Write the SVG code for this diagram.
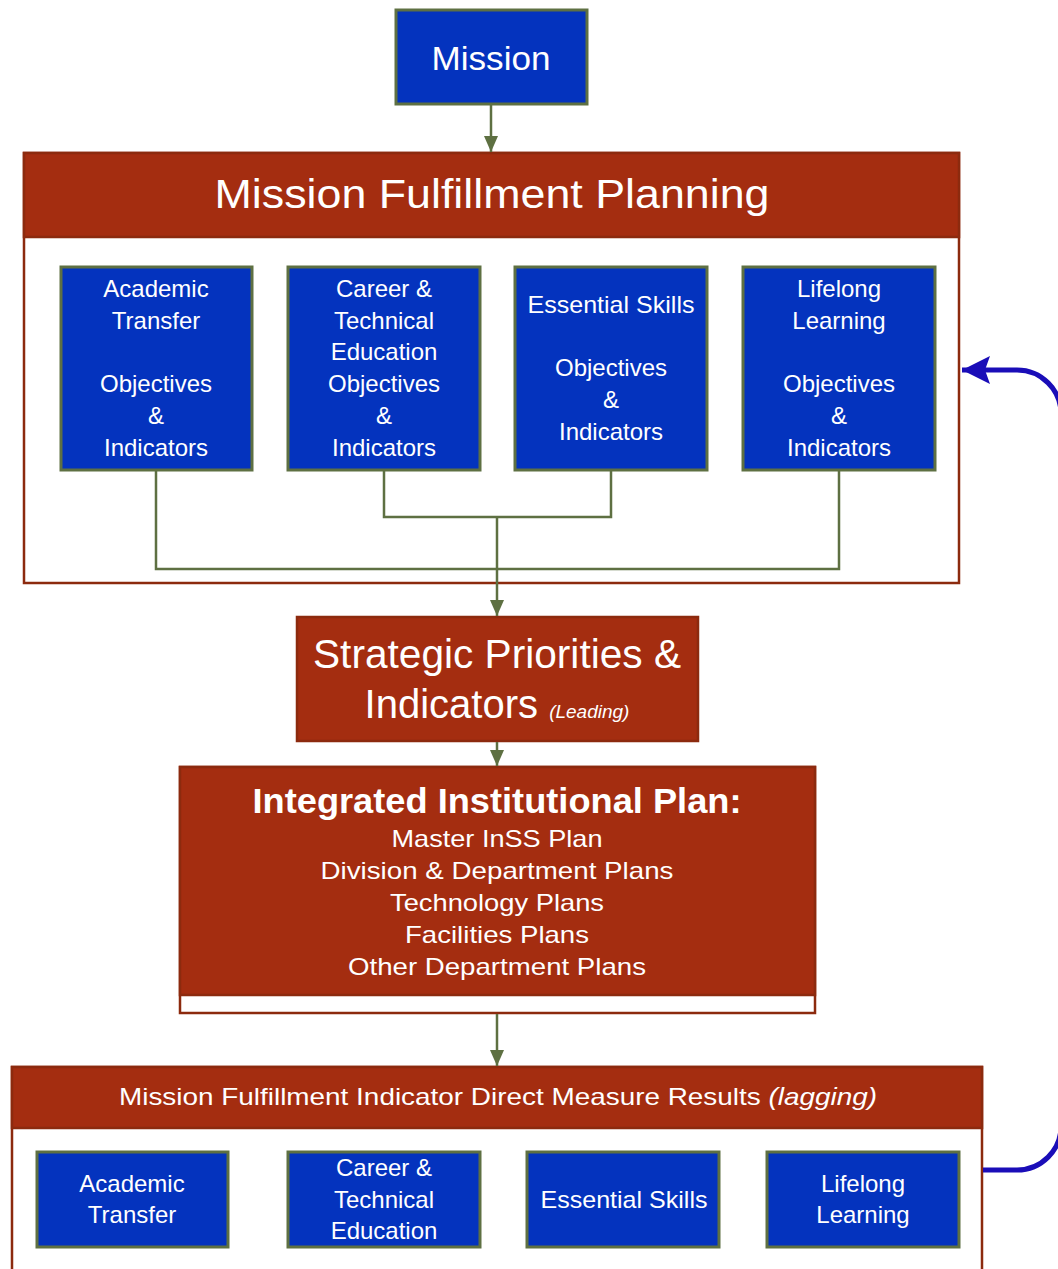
<svg xmlns="http://www.w3.org/2000/svg" width="1058" height="1269" viewBox="0 0 1058 1269">
  <defs>
    <style>
      .blue { fill: #0433BE; stroke: #5E7042; stroke-width: 3; }
      .red { fill: #A42D10; stroke: #8C2A0E; stroke-width: 2.5; }
      .frame { fill: #FFFFFF; stroke: #8C2A0E; stroke-width: 2.5; }
      .conn { fill: none; stroke: #5E7042; stroke-width: 2.5; }
      .feedback { fill: none; stroke: #1A0DB8; stroke-width: 5; }
      text { font-family: "Liberation Sans", Arial, sans-serif; fill: #FFFFFF; text-anchor: middle; }
      .box { font-size: 24px; }
      .big { font-size: 40px; }
      .mid { font-size: 24px; }
    </style>
    <marker id="arrowGreen" viewBox="0 0 16 14" refX="16" refY="7" markerWidth="16" markerHeight="14" markerUnits="userSpaceOnUse" orient="auto">
      <path d="M0,0 L16,7 L0,14 Z" fill="#5E7042"/>
    </marker>
    <marker id="arrowBlue" viewBox="0 0 30 30" refX="29" refY="15" markerWidth="30" markerHeight="30" markerUnits="userSpaceOnUse" orient="auto">
      <path d="M29,15 L1,1 L6,15 L1,29 Z" fill="#1A0DB8"/>
    </marker>
  </defs>

  <!-- Mission -->
  <g id="mission">
    <rect class="blue" x="396" y="10" width="191" height="94"/>
    <text x="491" y="70" style="font-size:34px" textLength="119" lengthAdjust="spacingAndGlyphs">Mission</text>
  </g>

  <!-- Mission Fulfillment Planning container -->
  <g id="mfp">
    <rect class="frame" x="24" y="153" width="935" height="430"/>
    <rect class="red" x="24" y="153" width="935" height="84"/>
    <text class="big" x="492" y="208" textLength="555" lengthAdjust="spacingAndGlyphs">Mission Fulfillment Planning</text>
  </g>

  <g id="mfp-academic">
    <rect class="blue" x="61" y="267" width="191" height="203"/>
    <text class="box" x="156" y="297">Academic</text>
    <text class="box" x="156" y="329">Transfer</text>
    <text class="box" x="156" y="392">Objectives</text>
    <text class="box" x="156" y="424">&amp;</text>
    <text class="box" x="156" y="456">Indicators</text>
  </g>
  <g id="mfp-cte">
    <rect class="blue" x="288" y="267" width="192" height="203"/>
    <text class="box" x="384" y="297">Career &amp;</text>
    <text class="box" x="384" y="329">Technical</text>
    <text class="box" x="384" y="360">Education</text>
    <text class="box" x="384" y="392">Objectives</text>
    <text class="box" x="384" y="424">&amp;</text>
    <text class="box" x="384" y="456">Indicators</text>
  </g>
  <g id="mfp-essential">
    <rect class="blue" x="515" y="267" width="192" height="203"/>
    <text class="box" x="611" y="313" textLength="167" lengthAdjust="spacingAndGlyphs">Essential Skills</text>
    <text class="box" x="611" y="376">Objectives</text>
    <text class="box" x="611" y="408">&amp;</text>
    <text class="box" x="611" y="440">Indicators</text>
  </g>
  <g id="mfp-lifelong">
    <rect class="blue" x="743" y="267" width="192" height="203"/>
    <text class="box" x="839" y="297">Lifelong</text>
    <text class="box" x="839" y="329">Learning</text>
    <text class="box" x="839" y="392">Objectives</text>
    <text class="box" x="839" y="424">&amp;</text>
    <text class="box" x="839" y="456">Indicators</text>
  </g>

  <!-- Strategic Priorities -->
  <g id="strategic">
    <rect class="red" x="297" y="617" width="401" height="124"/>
    <text class="big" x="497" y="668" textLength="368" lengthAdjust="spacingAndGlyphs">Strategic Priorities &amp;</text>
    <text x="497" y="718"><tspan style="font-size:40px">Indicators </tspan><tspan style="font-size:19px;font-style:italic">(Leading)</tspan></text>
  </g>

  <!-- Integrated Institutional Plan -->
  <g id="iip">
    <rect class="frame" x="180" y="767" width="635" height="246"/>
    <rect class="red" x="180" y="767" width="635" height="228"/>
    <text x="497" y="813" style="font-size:35px;font-weight:bold" textLength="489" lengthAdjust="spacingAndGlyphs">Integrated Institutional Plan:</text>
    <text class="mid" x="497" y="847" textLength="211" lengthAdjust="spacingAndGlyphs">Master InSS Plan</text>
    <text class="mid" x="497" y="879" textLength="353" lengthAdjust="spacingAndGlyphs">Division &amp; Department Plans</text>
    <text class="mid" x="497" y="911" textLength="214" lengthAdjust="spacingAndGlyphs">Technology Plans</text>
    <text class="mid" x="497" y="943" textLength="184" lengthAdjust="spacingAndGlyphs">Facilities Plans</text>
    <text class="mid" x="497" y="975" textLength="298" lengthAdjust="spacingAndGlyphs">Other Department Plans</text>
  </g>

  <!-- Direct measure results container -->
  <g id="results">
    <rect class="frame" x="12" y="1067" width="970" height="220"/>
    <rect class="red" x="12" y="1067" width="970" height="61"/>
    <text class="mid" x="498" y="1105" textLength="758" lengthAdjust="spacingAndGlyphs">Mission Fulfillment Indicator Direct Measure Results <tspan style="font-style:italic">(lagging)</tspan></text>
  </g>
  <g id="res-academic">
    <rect class="blue" x="37" y="1152" width="191" height="95"/>
    <text class="box" x="132" y="1192">Academic</text>
    <text class="box" x="132" y="1223">Transfer</text>
  </g>
  <g id="res-cte">
    <rect class="blue" x="288" y="1152" width="192" height="95"/>
    <text class="box" x="384" y="1176">Career &amp;</text>
    <text class="box" x="384" y="1208">Technical</text>
    <text class="box" x="384" y="1239">Education</text>
  </g>
  <g id="res-essential">
    <rect class="blue" x="527" y="1152" width="192" height="95"/>
    <text class="box" x="624" y="1208" textLength="167" lengthAdjust="spacingAndGlyphs">Essential Skills</text>
  </g>
  <g id="res-lifelong">
    <rect class="blue" x="767" y="1152" width="192" height="95"/>
    <text class="box" x="863" y="1192">Lifelong</text>
    <text class="box" x="863" y="1223">Learning</text>
  </g>

  <!-- Connectors -->
  <g id="connectors">
    <line class="conn" x1="491" y1="105" x2="491" y2="152" marker-end="url(#arrowGreen)"/>
    <path class="conn" d="M156,471 V569 H839 V471"/>
    <path class="conn" d="M384,471 V517 H611 V471"/>
    <line class="conn" x1="497" y1="517" x2="497" y2="616" marker-end="url(#arrowGreen)"/>
    <line class="conn" x1="497" y1="742" x2="497" y2="766" marker-end="url(#arrowGreen)"/>
    <line class="conn" x1="497" y1="1014" x2="497" y2="1066" marker-end="url(#arrowGreen)"/>
    <!-- feedback loop from results back to planning; vertical run sits just past the right edge -->
    <path class="feedback" d="M983,1170 H1017 A44,44 0 0 0 1061,1126 V414 A44,44 0 0 0 1017,370 H962" marker-end="url(#arrowBlue)"/>
  </g>
</svg>
